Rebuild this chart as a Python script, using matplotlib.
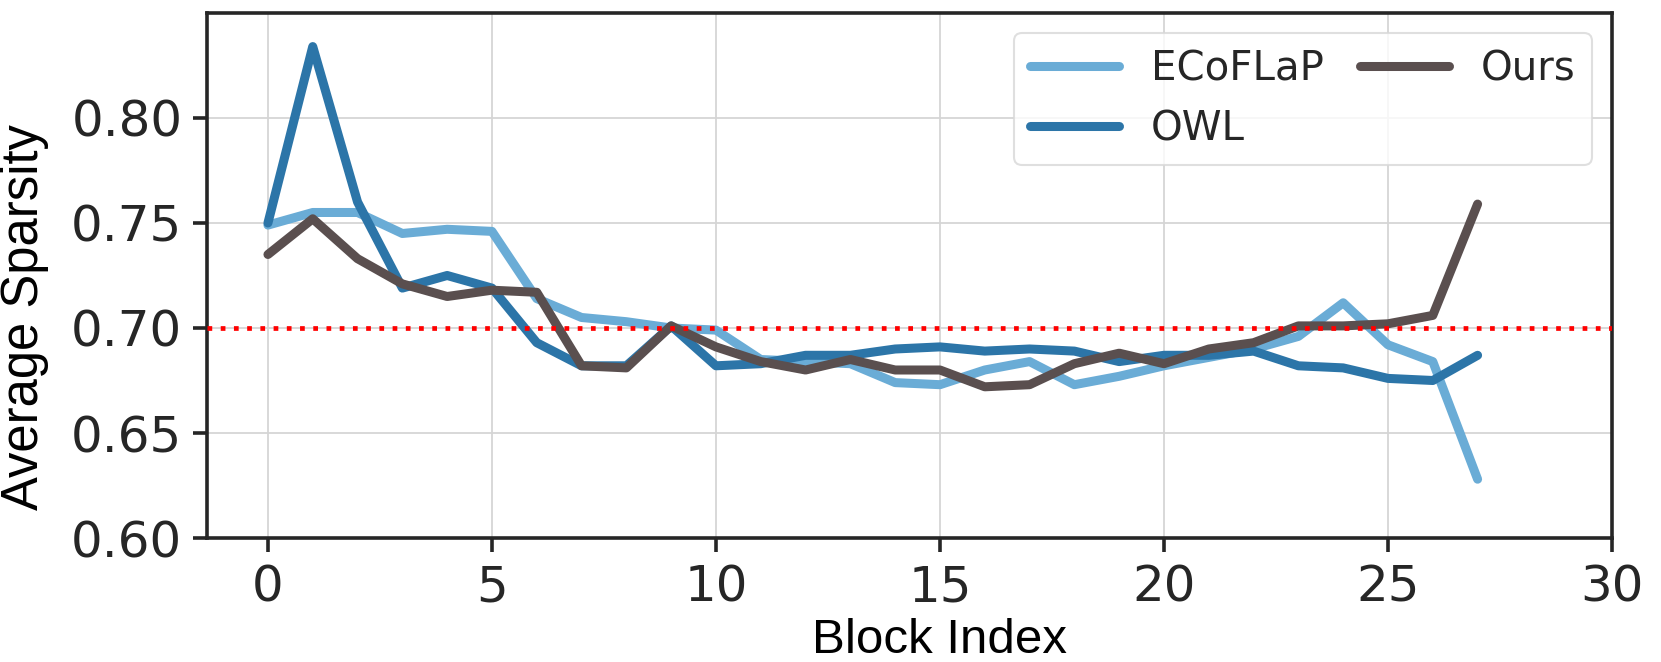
import numpy as np
import matplotlib
matplotlib.use("Agg")
import matplotlib.pyplot as plt

# --- data ---
blocks = np.arange(28)

ecoflap = [0.749, 0.755, 0.755, 0.745, 0.747, 0.746, 0.714, 0.705, 0.703, 0.700,
           0.699, 0.685, 0.684, 0.683, 0.674, 0.673, 0.680, 0.684, 0.673, 0.677,
           0.682, 0.686, 0.690, 0.696, 0.712, 0.692, 0.684, 0.628]
owl     = [0.750, 0.834, 0.760, 0.719, 0.725, 0.719, 0.693, 0.682, 0.682, 0.701,
           0.682, 0.683, 0.687, 0.687, 0.690, 0.691, 0.689, 0.690, 0.689, 0.684,
           0.687, 0.687, 0.689, 0.682, 0.681, 0.676, 0.675, 0.687]
ours    = [0.735, 0.752, 0.733, 0.721, 0.715, 0.718, 0.717, 0.682, 0.681, 0.701,
           0.691, 0.684, 0.680, 0.685, 0.680, 0.680, 0.672, 0.673, 0.683, 0.688,
           0.683, 0.690, 0.693, 0.701, 0.701, 0.702, 0.706, 0.759]
target = 0.70

C_ECO  = "#6aacd6"
C_OWL  = "#2c75a8"
C_OURS = "#5a4f4f"
DARK   = "#262626"

fig = plt.figure(figsize=(16.61, 6.62), dpi=100)
ax = fig.add_axes([0.1249, 0.1873, 0.9705 - 0.1249, 0.9804 - 0.1873])

ax.grid(True, color="#d5d5d5", linewidth=1.3, zorder=0)

ax.plot(blocks, ecoflap, color=C_ECO, lw=6.5, label="ECoFLaP", solid_capstyle="round", zorder=2)
ax.plot(blocks, owl, color=C_OWL, lw=6.5, label="OWL", solid_capstyle="round", zorder=3)
ax.plot(blocks, ours, color=C_OURS, lw=6.5, label="Ours", solid_capstyle="round", zorder=4)

# target sparsity, drawn over the curves
ax.axhline(target, color="red", linestyle=(0, (1, 1.8)), linewidth=3.4, zorder=5)

ax.set_xlim(-1.35, 30)
ax.set_ylim(0.60, 0.85)
ax.set_xticks([0, 5, 10, 15, 20, 25, 30])
ax.set_yticks([0.60, 0.65, 0.70, 0.75, 0.80])
ax.set_yticklabels(["0.60", "0.65", "0.70", "0.75", "0.80"])

for s in ax.spines.values():
    s.set_linewidth(2.6)
    s.set_color(DARK)
ax.tick_params(axis="both", direction="out", length=10, width=2.6, color=DARK,
               labelsize=36, labelcolor=DARK, pad=8)
for lab in ax.get_xticklabels() + ax.get_yticklabels():
    lab.set_family("DejaVu Sans")

ax.set_xlabel("Block Index", fontsize=35.5, family="Liberation Sans", color="black")
ax.set_ylabel("Average Sparsity", fontsize=36.5, family="Liberation Sans", color="black")
ax.xaxis.set_label_coords(0.521, -0.152)
ax.yaxis.set_label_coords(-0.113, 0.42)

leg = ax.legend(loc="upper right", ncol=2, fontsize=29, frameon=True, fancybox=True,
                handlelength=2.2, columnspacing=0.9, borderpad=0.4, borderaxespad=0.5)
leg.get_frame().set_edgecolor("#d8d8d8")
leg.get_frame().set_linewidth(1.5)
for t in leg.get_texts():
    t.set_color(DARK)

fig.savefig("out.png", dpi=100)
